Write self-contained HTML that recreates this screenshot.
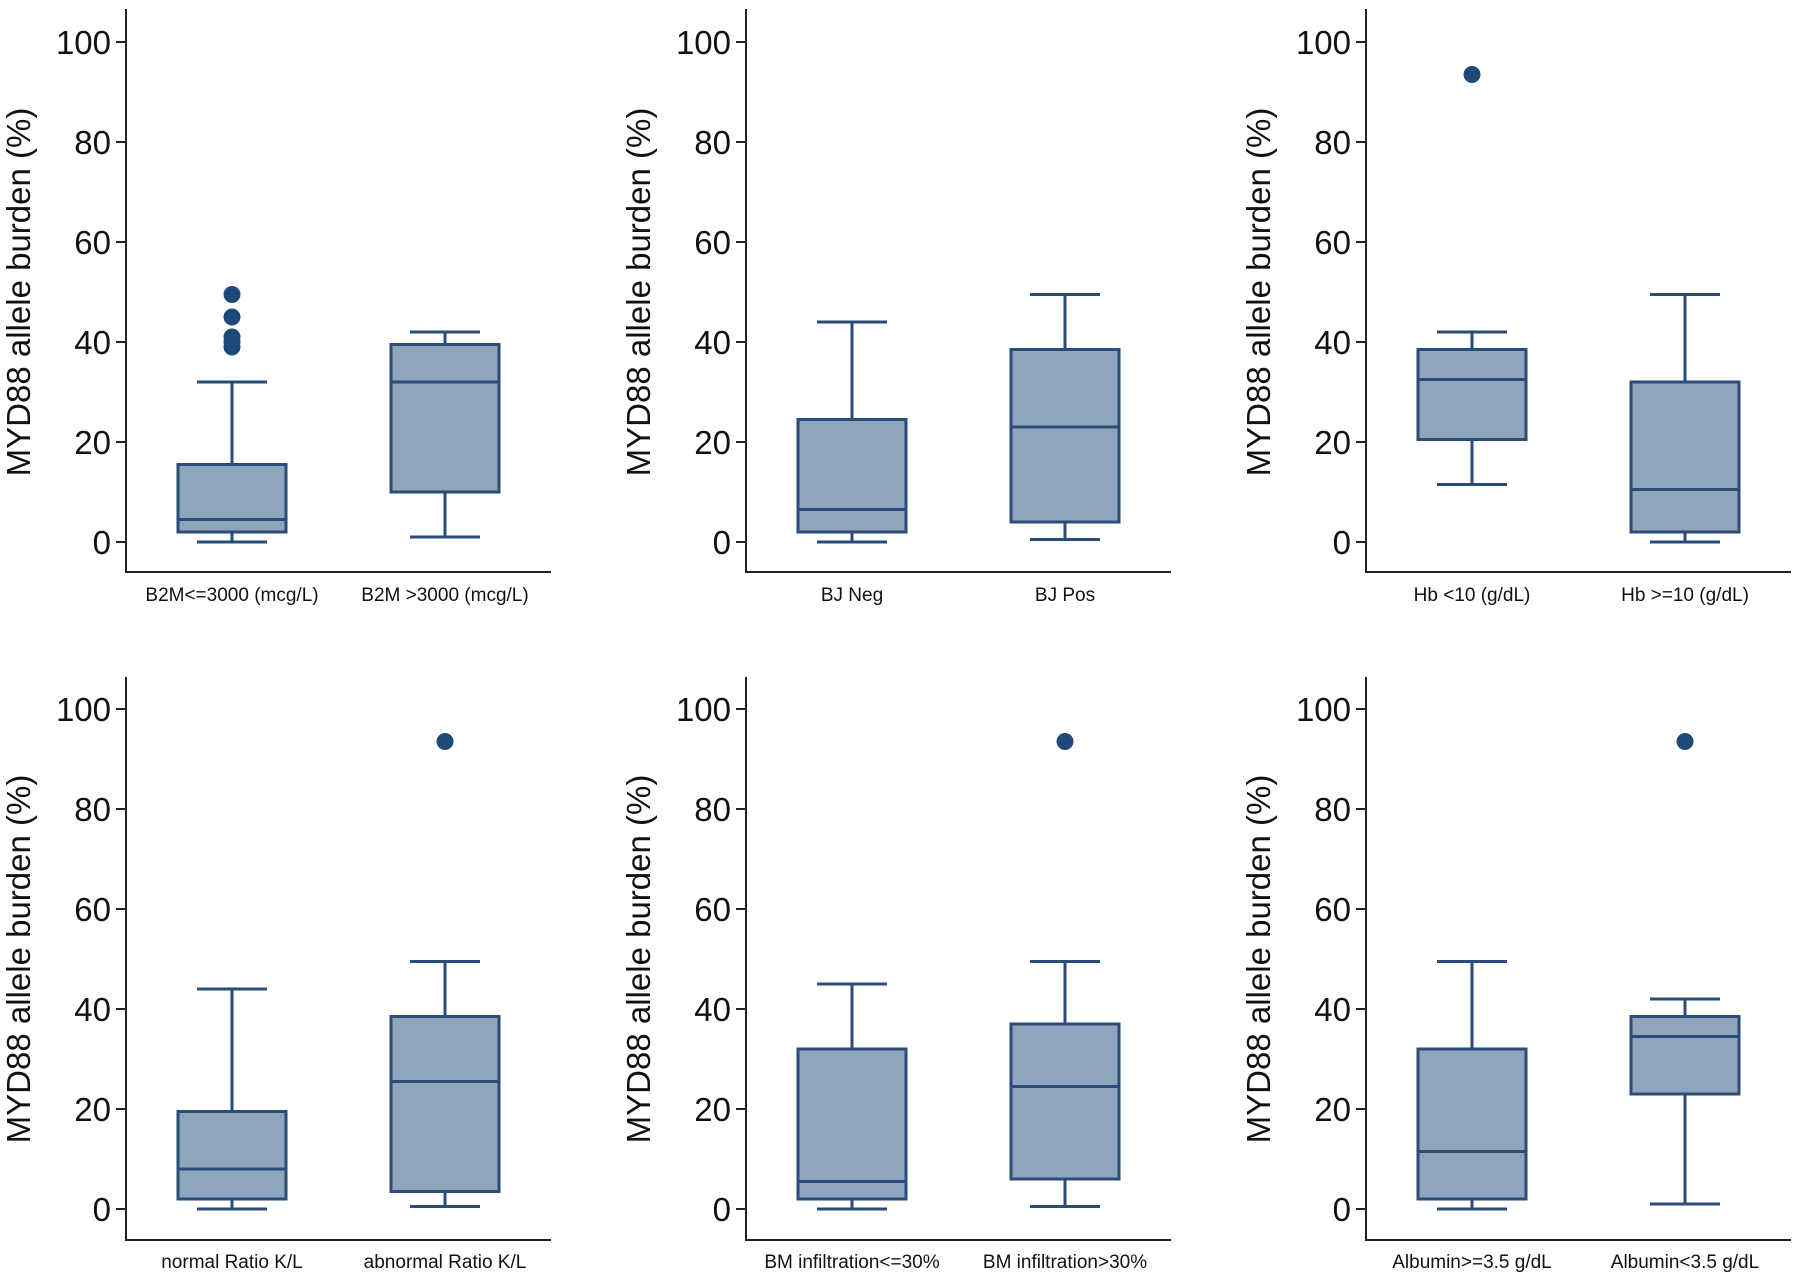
<!DOCTYPE html>
<html><head><meta charset="utf-8"><style>
html,body{margin:0;padding:0;background:#fff;}
svg{display:block;font-family:"Liberation Sans",Arial,sans-serif;}
</style></head><body>
<svg id="fig" width="1800" height="1273" viewBox="0 0 1800 1273"></svg>
<script>
const panelCategories = [
  ["B2M<=3000 (mcg/L)", "B2M >3000 (mcg/L)"],
  ["BJ Neg", "BJ Pos"],
  ["Hb <10 (g/dL)", "Hb >=10 (g/dL)"],
  ["normal Ratio K/L", "abnormal Ratio K/L"],
  ["BM infiltration<=30%", "BM infiltration>30%"],
  ["Albumin>=3.5 g/dL", "Albumin<3.5 g/dL"]
];
// [whiskerLow, q1, median, q3, whiskerHigh]
const panelStats = [
  [[0, 2, 4.5, 15.5, 32], [1, 10, 32, 39.5, 42]],
  [[0, 2, 6.5, 24.5, 44], [0.5, 4, 23, 38.5, 49.5]],
  [[11.5, 20.5, 32.5, 38.5, 42], [0, 2, 10.5, 32, 49.5]],
  [[0, 2, 8, 19.5, 44], [0.5, 3.5, 25.5, 38.5, 49.5]],
  [[0, 2, 5.5, 32, 45], [0.5, 6, 24.5, 37, 49.5]],
  [[0, 2, 11.5, 32, 49.5], [1, 23, 34.5, 38.5, 42]]
];
const panelOutliers = [
  [[39, 40, 41, 45, 49.5], []],
  [[], []],
  [[93.5], []],
  [[], [93.5]],
  [[], [93.5]],
  [[], [93.5]]
];
const yTicks = [0, 20, 40, 60, 80, 100];
const yTitle = "MYD88 allele burden (%)";

const NS = "http://www.w3.org/2000/svg";
const svg = document.getElementById("fig");
function mk(tag, attrs, parent) {
  const e = document.createElementNS(NS, tag);
  for (const k in attrs) e.setAttribute(k, attrs[k]);
  parent.appendChild(e);
  return e;
}
const colX = [126, 746, 1366];
const rowY = [{top: 9, y100: 42, y0: 542, xaxis: 572, lab: 601},
              {top: 677, y100: 709, y0: 1209, xaxis: 1240, lab: 1268}];
const STROKE = "#2b4c78", FILL = "#8fa5bb", DOT = "#1d4a78";

panelCategories.forEach((cats, p) => {
  const ax = colX[p % 3], r = rowY[Math.floor(p / 3)];
  const yScale = v => r.y0 - (v / 100) * (r.y0 - r.y100);
  const xScale = i => ax + [106, 319][i];
  const g = mk("g", {}, svg);
  
  
  const yl = mk("line", {x1: ax, y1: r.top, x2: ax, y2: r.xaxis, stroke: "#222", "stroke-width": 2}, g);
  
  
  const xl = mk("line", {x1: ax - 1, y1: r.xaxis, x2: ax + 425, y2: r.xaxis, stroke: "#222", "stroke-width": 2}, g);
  
  
  yTicks.forEach(t => {
    const y = yScale(t);
    const tl = mk("line", {x1: ax - 10, y1: y, x2: ax, y2: y, stroke: "#222", "stroke-width": 2}, g);
    
    
    const tx = mk("text", {x: ax - 15, y: y + 12, "text-anchor": "end", "font-size": 33, fill: "#111"}, g);
    tx.textContent = t;
    
    
  });
  const cy = (r.y0 + r.y100) / 2;
  const tt = mk("text", {x: 0, y: 0, transform: "translate(" + (ax - 96) + "," + cy + ") rotate(-90)", "text-anchor": "middle", "font-size": 33, fill: "#111"}, g);
  tt.textContent = yTitle;
  
  
  cats.forEach((c, i) => {
    const x = xScale(i);
    const s = panelStats[p][i];
    const bg = mk("g", {}, g);
    
    
    const hw = 54, cw = 35;
    mk("line", {x1: x, y1: yScale(s[0]), x2: x, y2: yScale(s[1]), stroke: STROKE, "stroke-width": 3}, bg);
    mk("line", {x1: x, y1: yScale(s[3]), x2: x, y2: yScale(s[4]), stroke: STROKE, "stroke-width": 3}, bg);
    mk("line", {x1: x - cw, y1: yScale(s[0]), x2: x + cw, y2: yScale(s[0]), stroke: STROKE, "stroke-width": 3}, bg);
    mk("line", {x1: x - cw, y1: yScale(s[4]), x2: x + cw, y2: yScale(s[4]), stroke: STROKE, "stroke-width": 3}, bg);
    mk("rect", {x: x - hw, y: yScale(s[3]), width: 2 * hw, height: yScale(s[1]) - yScale(s[3]), fill: FILL, stroke: STROKE, "stroke-width": 3}, bg);
    mk("line", {x1: x - hw, y1: yScale(s[2]), x2: x + hw, y2: yScale(s[2]), stroke: STROKE, "stroke-width": 3}, bg);
    panelOutliers[p][i].forEach(v => {
      const d = mk("circle", {cx: x, cy: yScale(v), r: 8.5, fill: DOT}, bg);
      
      
    });
    const lb = mk("text", {x: x, y: r.lab, "text-anchor": "middle", "font-size": 19, fill: "#111"}, g);
    lb.textContent = c;
    
    
  });
});
</script>
</body></html>
